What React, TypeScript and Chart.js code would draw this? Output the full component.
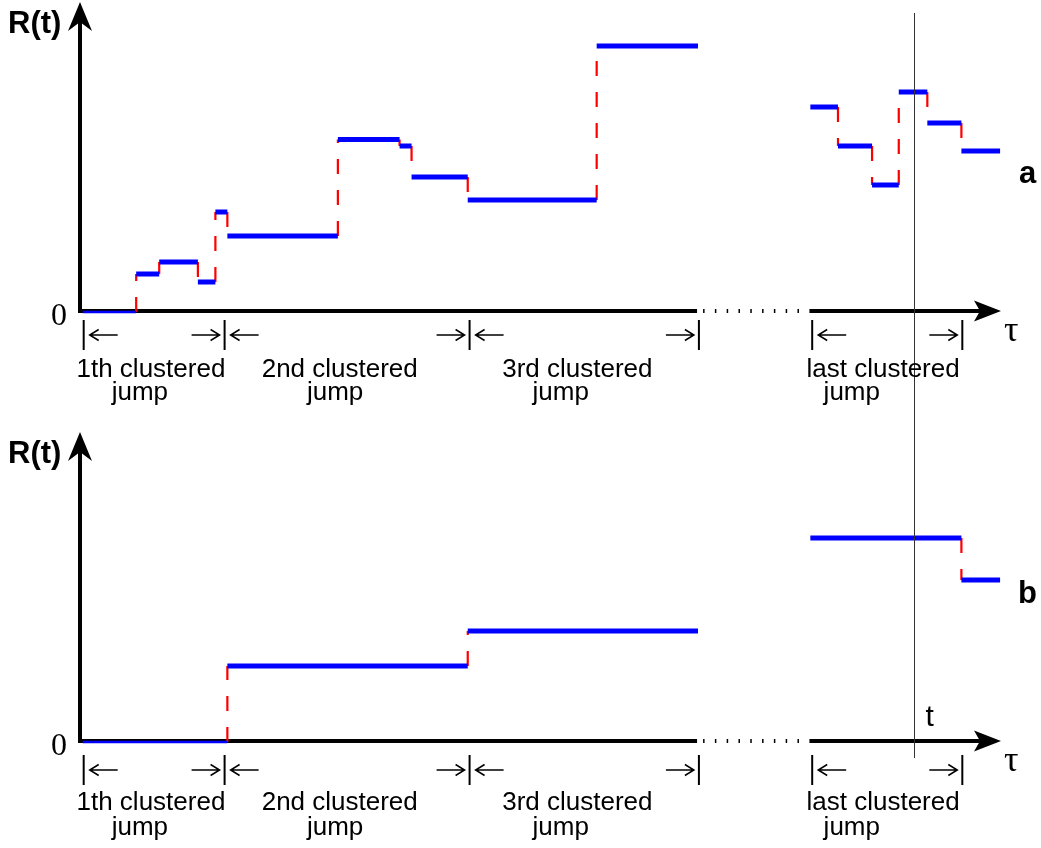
import React, { useEffect, useRef } from 'react';
import { Chart, registerables } from 'chart.js';

Chart.register(...registerables);

// ---- Panel a: R(t) step path (segment start, end, level) ----
const segStartA = [0.3, 6.1, 8.6, 12.8, 14.7, 16.0, 28.0, 34.7, 36.0, 42.1, 56.1, 79.3, 82.3, 86.0, 88.9, 92.0, 95.7];
const segEndA = [6.1, 8.6, 12.8, 14.7, 16.0, 28.0, 34.7, 36.0, 42.1, 56.1, 67.1, 82.3, 86.0, 88.9, 92.0, 95.7, 99.9];
const levelA = [0, 12.7, 16.7, 10.0, 33.3, 25.3, 57.5, 55.3, 45.0, 37.3, 88.7, 68.3, 55.3, 42.3, 73.3, 63.0, 53.7];

// ---- Panel b: R(t) step path ----
const segStartB = [0.3, 16.0, 42.1, 79.3, 95.7];
const segEndB = [16.0, 42.1, 67.1, 95.7, 99.9];
const levelB = [0, 25.3, 37.0, 68.0, 54.0];

// ---- τ axis annotations ----
const clusterBounds = [0.4, 15.7, 42.3, 67.2, 79.5, 95.8];
const boundKinds = ['open', 'mid', 'mid', 'close', 'open', 'close'];
const clusterNames = ['1th clustered', '2nd clustered', '3rd clustered', 'last clustered'];
const clusterSub = ['jump', 'jump', 'jump', 'jump'];
const clusterNameX = [7.7, 28.2, 54.0, 87.2];
const clusterSubX = [6.5, 27.7, 52.2, 83.8];
const axisBreak = [67.0, 79.2];
const tTime = 90.6;

const SANS = '"Liberation Sans", Arial, sans-serif';
const SERIF = '"Liberation Serif", "Times New Roman", serif';

function buildSteps(starts: number[], ends: number[], levels: number[]) {
  const blue: any[] = [];
  const base: any[] = [];
  const red: any[] = [];
  for (let i = 0; i < starts.length; i++) {
    const target = levels[i] === 0 ? base : blue;
    target.push({ x: starts[i], y: levels[i] }, { x: ends[i], y: levels[i] }, { x: ends[i], y: null });
    if (i + 1 < starts.length && starts[i + 1] === ends[i]) {
      red.push({ x: ends[i], y: levels[i] }, { x: ends[i], y: levels[i + 1] }, { x: ends[i], y: null });
    }
  }
  return { blue, base, red };
}

function arrowGlyph(ctx: CanvasRenderingContext2D, xTip: number, y: number, dir: number) {
  const len = 28;
  ctx.beginPath();
  ctx.moveTo(xTip, y);
  ctx.lineTo(xTip - dir * len, y);
  ctx.moveTo(xTip - dir * 9, y - 5.5);
  ctx.lineTo(xTip, y);
  ctx.lineTo(xTip - dir * 9, y + 5.5);
  ctx.stroke();
}

function makePlugin(cfg: any) {
  return {
    id: 'diagram_' + cfg.letter,
    beforeDatasetsDraw(chart: any) {
      const ctx: CanvasRenderingContext2D = chart.ctx;
      const xs = chart.scales.x;
      const ys = chart.scales.y;
      const x0 = xs.getPixelForValue(0);
      const y0 = ys.getPixelForValue(0);
      const yTop = ys.getPixelForValue(100);
      const xEnd = xs.getPixelForValue(100);
      const ya = y0 - 1;
      ctx.save();
      ctx.strokeStyle = '#000';
      ctx.fillStyle = '#000';
      ctx.lineWidth = 4;
      ctx.lineCap = 'butt';
      // y axis
      const tipY = yTop - 10;
      ctx.beginPath();
      ctx.moveTo(x0, ya + 2);
      ctx.lineTo(x0, tipY + 20);
      ctx.stroke();
      ctx.beginPath();
      ctx.moveTo(x0, tipY);
      ctx.lineTo(x0 + 12, tipY + 29);
      ctx.lineTo(x0, tipY + 20);
      ctx.lineTo(x0 - 12, tipY + 29);
      ctx.closePath();
      ctx.fill();
      // x axis with break
      const b0 = xs.getPixelForValue(axisBreak[0]);
      const b1 = xs.getPixelForValue(axisBreak[1]);
      ctx.beginPath();
      ctx.moveTo(x0 - 2, ya);
      ctx.lineTo(b0, ya);
      ctx.moveTo(b1, ya);
      ctx.lineTo(xEnd - 20, ya);
      ctx.stroke();
      ctx.beginPath();
      ctx.moveTo(xEnd, ya);
      ctx.lineTo(xEnd - 27, ya - 10.5);
      ctx.lineTo(xEnd - 21, ya);
      ctx.lineTo(xEnd - 27, ya + 10.5);
      ctx.closePath();
      ctx.fill();
      ctx.setLineDash([1.5, 10.3]);
      ctx.lineWidth = 4;
      ctx.beginPath();
      ctx.moveTo(b0 + 6, ya);
      ctx.lineTo(b1 - 6, ya);
      ctx.stroke();
      ctx.setLineDash([]);
      ctx.restore();
    },
    afterDatasetsDraw(chart: any) {
      const ctx: CanvasRenderingContext2D = chart.ctx;
      const xs = chart.scales.x;
      const ys = chart.scales.y;
      const x0 = xs.getPixelForValue(0);
      const y0 = ys.getPixelForValue(0);
      const yTop = ys.getPixelForValue(100);
      const tipY = yTop - 10;
      const tx = Math.round(xs.getPixelForValue(tTime)) + 0.5;
      ctx.save();
      // vertical t line
      ctx.strokeStyle = '#333';
      ctx.lineWidth = 1;
      ctx.beginPath();
      if (cfg.letter === 'a') {
        ctx.moveTo(tx, yTop + 1);
        ctx.lineTo(tx, chart.height);
      } else {
        ctx.moveTo(tx, 0);
        ctx.lineTo(tx, y0 + 16);
      }
      ctx.stroke();

      ctx.fillStyle = '#000';
      ctx.strokeStyle = '#000';
      // R(t)
      ctx.font = 'bold 31px ' + SANS;
      ctx.textAlign = 'left';
      ctx.textBaseline = 'alphabetic';
      ctx.fillText('R(t)', 8, tipY + 31);
      // 0
      ctx.font = '32px ' + SERIF;
      ctx.textAlign = 'center';
      ctx.fillText('0', x0 - 21, y0 + 13);
      // tau
      ctx.font = '36px ' + SERIF;
      ctx.textAlign = 'left';
      ctx.fillText('τ', 1004, y0 + 29);
      // panel letter
      ctx.font = 'bold 31px ' + SANS;
      ctx.fillText(cfg.letter, cfg.letterX, cfg.letterY);
      if (cfg.letter === 'b') {
        ctx.font = '30px ' + SANS;
        ctx.fillText('t', tx + 11, y0 - 16);
      }
      // cluster bounds
      const arrowY = y0 + cfg.arrowOff;
      for (let i = 0; i < clusterBounds.length; i++) {
        const bx = xs.getPixelForValue(clusterBounds[i]);
        ctx.lineWidth = 2;
        ctx.beginPath();
        ctx.moveTo(bx, y0 + cfg.barTop);
        ctx.lineTo(bx, y0 + cfg.barTop + 30);
        ctx.stroke();
        ctx.lineWidth = 1.5;
        const k = boundKinds[i];
        if (k === 'open' || k === 'mid') arrowGlyph(ctx, bx + 6, arrowY, -1);
        if (k === 'close' || k === 'mid') arrowGlyph(ctx, bx - 5, arrowY, 1);
      }
      // cluster names
      ctx.font = '26px ' + SANS;
      ctx.textAlign = 'center';
      for (let i = 0; i < clusterNames.length; i++) {
        ctx.fillText(clusterNames[i], xs.getPixelForValue(clusterNameX[i]), y0 + cfg.line1);
        ctx.fillText(clusterSub[i], xs.getPixelForValue(clusterSubX[i]), y0 + cfg.line2);
      }
      ctx.restore();
    },
  };
}

function makeConfig(starts: number[], ends: number[], levels: number[], pad: any, cfg: any): any {
  const s = buildSteps(starts, ends, levels);
  return {
    type: 'line',
    data: {
      datasets: [
        { data: s.blue, borderColor: '#0000ff', borderWidth: 5, pointRadius: 0, spanGaps: false, clip: false, order: 0, borderCapStyle: 'butt' },
        { data: s.base, borderColor: '#0000ff', borderWidth: 2.5, pointRadius: 0, spanGaps: false, clip: false, order: 1, borderCapStyle: 'butt' },
        { data: s.red, borderColor: '#ff0000', borderWidth: 2.2, borderDash: [15, 16], pointRadius: 0, spanGaps: false, clip: false, order: 2, borderCapStyle: 'butt' },
      ],
    },
    options: {
      animation: false,
      responsive: false,
      devicePixelRatio: 1,
      parsing: true,
      layout: { padding: pad },
      scales: {
        x: { type: 'linear', min: 0, max: 100, display: false },
        y: { type: 'linear', min: 0, max: 100, display: false },
      },
      plugins: { legend: { display: false }, title: { display: false }, tooltip: { enabled: false } },
      events: [],
    },
    plugins: [makePlugin(cfg)],
  };
}

export default function App() {
  const refA = useRef<HTMLCanvasElement>(null);
  const refB = useRef<HTMLCanvasElement>(null);
  useEffect(() => {
    const ca = new Chart(
      refA.current as HTMLCanvasElement,
      makeConfig(segStartA, segEndA, levelA, { left: 80, right: 40, top: 12, bottom: 108 }, {
        letter: 'a', letterX: 1019, letterY: 183, barTop: 8, arrowOff: 23, line1: 65, line2: 88,
      })
    );
    const cb = new Chart(
      refB.current as HTMLCanvasElement,
      makeConfig(segStartB, segEndB, levelB, { left: 80, right: 40, top: 22, bottom: 106 }, {
        letter: 'b', letterX: 1018, letterY: 183, barTop: 13, arrowOff: 28, line1: 68, line2: 93,
      })
    );
    return () => {
      ca.destroy();
      cb.destroy();
    };
  }, []);
  return (
    <div style={{ position: 'fixed', left: 0, top: 0, width: 1041, height: 848, background: '#fff' }}>
      <canvas ref={refA} width={1041} height={420} style={{ position: 'absolute', left: 0, top: 0, width: 1041, height: 420 }} />
      <canvas ref={refB} width={1041} height={428} style={{ position: 'absolute', left: 0, top: 420, width: 1041, height: 428 }} />
    </div>
  );
}
